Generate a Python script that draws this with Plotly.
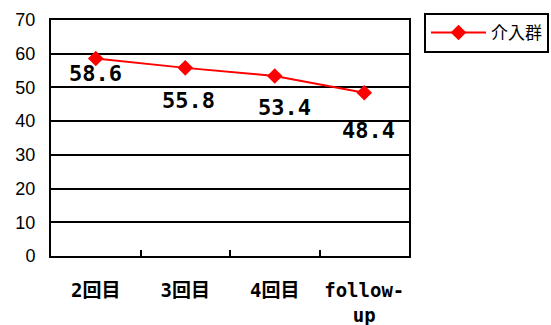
import plotly.graph_objects as go

categories = ["2回目", "3回目", "4回目", "follow-<br>up"]
values = [58.6, 55.8, 53.4, 48.4]
value_labels = ["58.6", "55.8", "53.4", "48.4"]
series_name = "介入群"

# label offsets (pixels) relative to each point
label_dx = [0, 3, 10, 4]
label_dy = [-15, -33, -32, -38]

fig = go.Figure()
fig.add_trace(go.Scatter(
    x=categories, y=values, name=series_name, mode="lines+markers",
    line=dict(color="#ff0000", width=2),
    marker=dict(symbol="diamond", size=12, color="#ff0000"),
))

for c, v, t, dx, dy in zip(categories, values, value_labels, label_dx, label_dy):
    fig.add_annotation(x=c, y=v, text=t, showarrow=False, xshift=dx, yshift=dy,
                       font=dict(family="DejaVu Sans Mono", size=22, color="black", weight="bold"))

fig.update_layout(
    width=551, height=325,
    margin=dict(l=51, r=142, t=20, b=69),
    paper_bgcolor="white", plot_bgcolor="white",
    showlegend=True,
    legend=dict(xref="container", yref="container", x=0.7695, y=0.96,
                xanchor="left", yanchor="top",
                bordercolor="black", borderwidth=2, bgcolor="white",
                font=dict(family="Noto Sans CJK JP", size=17, color="black"),
                itemwidth=55),
    xaxis=dict(
        type="category", range=[-0.5, 3.5], automargin=False,
        showline=True, linecolor="black", linewidth=2, mirror=True,
        ticks="inside", tickson="boundaries", ticklen=6, tickcolor="black", tickwidth=1.5,
        showgrid=False, ticklabelstandoff=16, tickangle=0,
        tickfont=dict(family="DejaVu Sans Mono, Noto Sans CJK JP", size=19, color="black", weight="bold"),
    ),
    yaxis=dict(
        range=[0, 70], dtick=10, automargin=False,
        showline=True, linecolor="black", linewidth=2, mirror=True,
        showgrid=True, gridcolor="black", gridwidth=1.5,
        ticks="", ticklabelstandoff=10,
        tickfont=dict(family="Liberation Sans, Arial", size=18, color="black"),
    ),
)

fig.write_html("out.html")
